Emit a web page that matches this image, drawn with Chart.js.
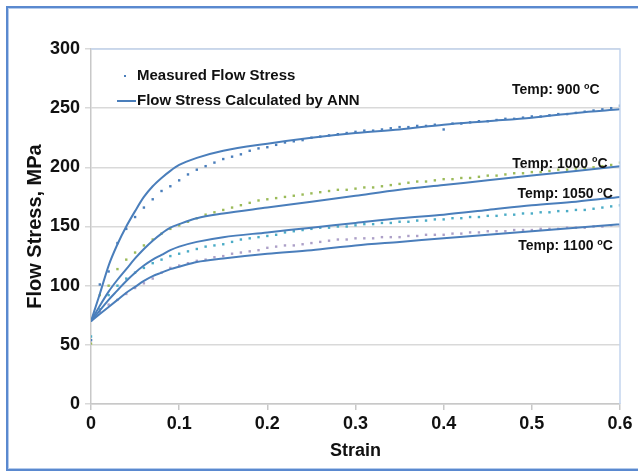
<!DOCTYPE html>
<html lang="en">
<head>
  <meta charset="UTF-8">
  <title>Flow Stress vs Strain</title>
  <style>
    body {
      margin: 0;
      width: 638px;
      height: 475px;
      overflow: hidden;
      background-color: white;
      position: relative;
    }
    .frame {
      position: absolute;
      left: 6px;
      top: 6px;
      width: 640px;
      height: 461px;
      border: 2px solid #5a89cf;
      box-shadow: inset 0 0 0 1px #b4cbec;
    }
    .chart-container {
      position: absolute;
      left: 0;
      top: 0;
      width: 638px;
      height: 475px;
    }
  </style>
</head>
<body>
  <div class="frame"></div>
  <div class="chart-container">
    <canvas id="flow-chart"></canvas>
  </div>

  <script src="https://cdn.jsdelivr.net/npm/chart.js@4.4.0/dist/chart.umd.min.js"></script>
  <script>
    // ANN curves (solid lines)
    const STRAIN_ANN = [0, 0.01, 0.02, 0.03, 0.04, 0.05, 0.06, 0.07, 0.08, 0.09, 0.1, 0.12, 0.15, 0.2, 0.25, 0.3, 0.35, 0.4, 0.45, 0.5, 0.55, 0.6];
    const ANN_900  = [70, 93, 117, 135, 150, 163, 175, 184, 191, 197, 202, 208, 214, 220, 225, 229, 232, 236, 239, 242, 246, 249];
    const ANN_1000 = [70, 83, 95, 105, 114, 123, 131, 138, 144, 149, 152, 157, 161, 166, 171, 176, 181, 185, 189, 193, 197, 201];
    const ANN_1050 = [70, 79, 88, 96, 104, 111, 117, 122, 126, 130, 133, 137, 141, 145, 149, 153, 157, 160, 164, 168, 171, 175];
    const ANN_1100 = [70, 76, 82, 88, 94, 99, 104, 108, 111, 114, 116, 120, 123, 127, 130, 134, 137, 140, 143, 146, 149, 152];

    // measured points (dots)
    const STRAIN_MEASURED = [0, 0.01, 0.02, 0.03, 0.04, 0.05, 0.06, 0.07, 0.08, 0.09,
      0.1, 0.11, 0.12, 0.13, 0.14, 0.15, 0.16, 0.17, 0.18, 0.19,
      0.2, 0.21, 0.22, 0.23, 0.24, 0.25, 0.26, 0.27, 0.28, 0.29,
      0.3, 0.31, 0.32, 0.33, 0.34, 0.35, 0.36, 0.37, 0.38, 0.39,
      0.4, 0.41, 0.42, 0.43, 0.44, 0.45, 0.46, 0.47, 0.48, 0.49,
      0.5, 0.51, 0.52, 0.53, 0.54, 0.55, 0.56, 0.57, 0.58, 0.59, 0.6];
    const MEASURED_900 = [54, 101, 112, 136, 148, 158, 166, 173, 180, 184,
      189, 194, 198, 201, 204, 207, 209, 211, 214, 216,
      217, 219, 221, 222, 223, 225, 226, 227, 228, 229,
      230, 231, 231, 232, 233, 234, 234, 235, 235, 236,
      232, 237, 237, 238, 239, 239, 240, 241, 241, 242,
      243, 243, 244, 245, 245, 246, 247, 248, 249, 250, 252];
    const MEASURED_1000 = [51, 92, 100, 114, 122, 128, 134, 139, 144, 148,
      151, 154, 157, 160, 162, 164, 166, 168, 170, 172,
      173, 174, 175, 176, 177, 178, 179, 180, 181, 181,
      182, 183, 183, 184, 185, 186, 187, 188, 188, 189,
      190, 190, 191, 191, 192, 193, 193, 194, 195, 195,
      196, 196, 197, 198, 198, 199, 199, 200, 201, 202, 204];
    const MEASURED_1050 = [57, 80, 92, 100, 106, 111, 115, 119, 122, 125,
      127, 129, 131, 133, 134, 135, 137, 139, 140, 141,
      142, 143, 145, 146, 147, 148, 149, 149, 150, 150,
      151, 152, 152, 153, 153, 154, 154, 155, 155, 156,
      156, 157, 157, 158, 158, 159, 159, 160, 160, 161,
      161, 162, 162, 163, 163, 164, 164, 165, 166, 167, 168];
    const MEASURED_1100 = [54, 78, 84, 88, 93, 98, 102, 106, 111, 115,
      117, 119, 121, 122, 124, 125, 127, 128, 129, 130,
      132, 133, 134, 134, 135, 136, 137, 138, 139, 139,
      140, 140, 140, 141, 141, 141, 142, 142, 143, 143,
      143, 144, 144, 145, 145, 146, 146, 146, 147, 147,
      147, 148, 148, 148, 149, 149, 149, 150, 150, 151, 151];

    const LEGEND_LABELS = ['Measured Flow Stress', 'Flow Stress Calculated by ANN'];
    const TEMP_LABELS = ['Temp: 900 ', 'Temp: 1000 ', 'Temp: 1050 ', 'Temp: 1100 '];
    // anchor of each temperature label (strain, stress), right aligned
    const TEMP_LABEL_X = [0.577, 0.586, 0.592, 0.592];
    const TEMP_LABEL_Y = [265, 203, 177, 133];

    const LINE_COLOR = '#4a7ebb';
    const DOT_COLORS = ['#4a7ebb', '#9bbb59', '#4bacc6', '#ada0c8'];
    const FONT = '"Liberation Sans", Arial, sans-serif';

    function toPoints(xs, ys) {
      return xs.map((x, i) => ({ x, y: ys[i] }));
    }

    function measuredDataset(ys, color) {
      return {
        type: 'scatter',
        data: toPoints(STRAIN_MEASURED, ys),
        showLine: false,
        pointStyle: 'rect',
        pointRadius: 1.7,
        pointBorderWidth: 0,
        backgroundColor: color,
        borderColor: color,
        order: 2
      };
    }

    function annDataset(ys) {
      return {
        type: 'line',
        data: toPoints(STRAIN_ANN, ys),
        borderColor: LINE_COLOR,
        borderWidth: 2,
        pointRadius: 0,
        cubicInterpolationMode: 'monotone',
        fill: false,
        order: 1
      };
    }

    const textPlugin = {
      id: 'textPlugin',
      afterDraw(chart) {
        const { ctx, chartArea, scales } = chart;
        ctx.save();

        // plot area border (top and right)
        ctx.strokeStyle = '#c3d5ee';
        ctx.lineWidth = 1.5;
        ctx.beginPath();
        ctx.moveTo(chartArea.left, chartArea.top);
        ctx.lineTo(chartArea.right, chartArea.top);
        ctx.lineTo(chartArea.right, chartArea.bottom);
        ctx.stroke();

        // legend inside the plot
        ctx.fillStyle = '#111';
        ctx.textBaseline = 'middle';
        ctx.textAlign = 'left';
        ctx.font = 'bold 15px ' + FONT;
        const lx = chartArea.left + 46;
        const ly = chartArea.top + 27;
        ctx.fillText(LEGEND_LABELS[0], lx, ly);
        ctx.fillText(LEGEND_LABELS[1], lx, ly + 25);
        ctx.fillStyle = LINE_COLOR;
        ctx.fillRect(lx - 13, ly - 1, 2, 2);
        ctx.strokeStyle = LINE_COLOR;
        ctx.lineWidth = 2;
        ctx.beginPath();
        ctx.moveTo(lx - 20, ly + 25);
        ctx.lineTo(lx - 1, ly + 25);
        ctx.stroke();

        // temperature labels
        ctx.fillStyle = '#111';
        TEMP_LABELS.forEach((t, i) => {
          const right = scales.x.getPixelForValue(TEMP_LABEL_X[i]);
          const y = scales.y.getPixelForValue(TEMP_LABEL_Y[i]);
          ctx.font = 'bold 14px ' + FONT;
          const wT = ctx.measureText(t).width;
          const wC = ctx.measureText('C').width;
          ctx.font = 'bold 9px ' + FONT;
          const wO = ctx.measureText('o').width;
          const x0 = right - wT - wO - wC;
          ctx.font = 'bold 14px ' + FONT;
          ctx.fillText(t, x0, y);
          ctx.fillText('C', x0 + wT + wO, y);
          ctx.font = 'bold 9px ' + FONT;
          ctx.fillText('o', x0 + wT, y - 4);
        });
        ctx.restore();
      }
    };

    const ctx = document.getElementById('flow-chart');
    new Chart(ctx, {
      type: 'scatter',
      data: {
        datasets: [
          measuredDataset(MEASURED_900, DOT_COLORS[0]),
          measuredDataset(MEASURED_1000, DOT_COLORS[1]),
          measuredDataset(MEASURED_1050, DOT_COLORS[2]),
          measuredDataset(MEASURED_1100, DOT_COLORS[3]),
          annDataset(ANN_900),
          annDataset(ANN_1000),
          annDataset(ANN_1050),
          annDataset(ANN_1100)
        ]
      },
      plugins: [textPlugin],
      options: {
        responsive: true,
        maintainAspectRatio: false,
        animation: false,
        layout: {
          padding: { top: 49, right: 18, left: 0, bottom: 0 }
        },
        plugins: {
          legend: { display: false },
          tooltip: { enabled: false }
        },
        scales: {
          x: {
            type: 'linear',
            min: 0,
            max: 0.6,
            afterFit: (scale) => { scale.height = 71; },
            ticks: {
              stepSize: 0.1,
              color: '#111',
              padding: 3,
              font: { family: FONT, size: 18, weight: 'bold' }
            },
            grid: {
              drawOnChartArea: false,
              drawTicks: true,
              tickLength: 6,
              color: '#c8c8c8',
              lineWidth: 1.5
            },
            border: { color: '#c8c8c8', width: 1.5 },
            title: {
              display: true,
              text: 'Strain',
              color: '#111',
              padding: { top: 0, bottom: 13 },
              font: { family: FONT, size: 18, weight: 'bold' }
            }
          },
          y: {
            min: 0,
            max: 300,
            afterFit: (scale) => { scale.width = 91; },
            ticks: {
              stepSize: 50,
              color: '#111',
              padding: 5,
              font: { family: FONT, size: 18, weight: 'bold' }
            },
            grid: {
              color: '#d9d9d9',
              lineWidth: 1.5,
              tickLength: 6
            },
            border: { color: '#c8c8c8', width: 1.5 },
            title: {
              display: true,
              text: 'Flow Stress, MPa',
              color: '#111',
              padding: { top: 23, bottom: 0 },
              font: { family: FONT, size: 20, weight: 'bold' }
            }
          }
        }
      }
    });
  </script>
</body>
</html>
